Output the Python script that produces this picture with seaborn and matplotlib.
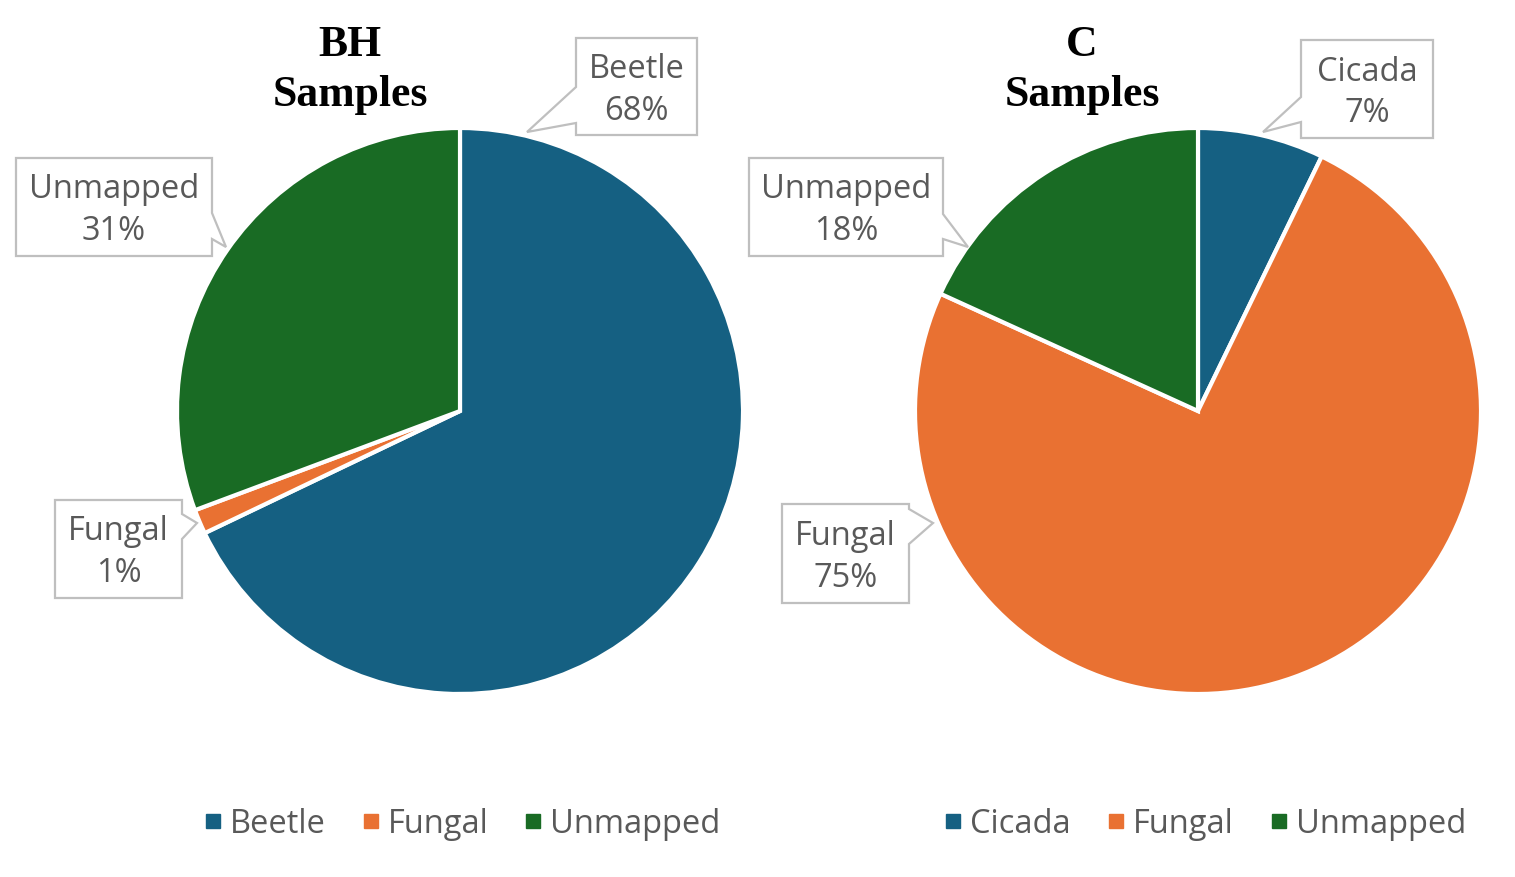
import matplotlib.pyplot as plt
from matplotlib.patches import Polygon
from matplotlib.lines import Line2D
import seaborn as sns

# data
bh_labels = ["Beetle", "Fungal", "Unmapped"]
bh_values = [67.9, 1.4, 30.7]
c_labels = ["Cicada", "Fungal", "Unmapped"]
c_values = [7.2, 74.6, 18.2]
colors = ["#156082", "#E97132", "#196B24"]

sns.set_theme(style="white")
plt.rcParams['font.family'] = ['Open Sans', 'DejaVu Sans']

W, H = 1515, 878
grey = "#595959"
edge = "#BFBFBF"
fs = 23.5

fig = plt.figure(figsize=(15.15, 8.78), dpi=100)
ax = fig.add_axes([0, 0, 1, 1])


def fy(y):
    return H - y


def callout(box, side, base, tip, name, val):
    x0, y0, x1, y1 = box
    b0, b1 = base
    if side == "left":
        pts = [(x0, y0), (x1, y0), (x1, y1), (x0, y1), (x0, b1), tip, (x0, b0)]
    else:
        pts = [(x0, y0), (x1, y0), (x1, b0), tip, (x1, b1), (x1, y1), (x0, y1)]
    pts = [(px, fy(py)) for px, py in pts]
    ax.add_patch(Polygon(pts, closed=True, facecolor="white", edgecolor=edge,
                         linewidth=1.6, zorder=5))
    cx = (x0 + x1) / 2
    cy = (y0 + y1) / 2
    ax.text(cx, fy(cy - 18), name, ha="center", va="center", fontsize=fs,
            color=grey, zorder=6)
    ax.text(cx, fy(cy + 24), f"{round(val)}%", ha="center", va="center",
            fontsize=fs, color=grey, zorder=6)


# pies
ax.pie(bh_values, colors=colors, startangle=90, counterclock=False,
       center=(460, fy(412)), radius=283,
       wedgeprops=dict(edgecolor="white", linewidth=3))
ax.pie(c_values, colors=colors, startangle=90, counterclock=False,
       center=(1198, fy(412)), radius=283,
       wedgeprops=dict(edgecolor="white", linewidth=3))
ax.set_xlim(0, W)
ax.set_ylim(0, H)
ax.set_aspect("equal")
ax.axis("off")

# titles
for x, t in [(350, "BH"), (1082, "C")]:
    ax.text(x, fy(45), t, ha="center", va="center", fontsize=31.5,
            fontweight="bold", family="Liberation Serif", color="black")
    ax.text(x, fy(95), "Samples", ha="center", va="center", fontsize=31.5,
            fontweight="bold", family="Liberation Serif", color="black")

# callouts, left pie
callout((576, 39, 697, 136), "left", (88, 124), (527, 133), bh_labels[0], bh_values[0])
callout((16, 159, 212, 257), "right", (214, 240), (226, 248), bh_labels[2], bh_values[2])
callout((55, 501, 182, 599), "right", (515, 540), (197, 524), bh_labels[1], bh_values[1])
# callouts, right pie
callout((1301, 41, 1433, 139), "left", (98, 123), (1263, 133), c_labels[0], c_values[0])
callout((749, 159, 943, 257), "right", (215, 240), (968, 248), c_labels[2], c_values[2])
callout((782, 505, 909, 604), "right", (510, 545), (933, 524), c_labels[1], c_values[1])

# legends
def legend_for(labels, cx):
    handles = [Line2D([], [], marker="s", linestyle="none", markersize=9.5,
                      markerfacecolor=c, markeredgecolor=c) for c in colors]
    lg = fig.legend(handles, labels, loc="center", ncol=3, frameon=False,
                    bbox_to_anchor=(cx / W, 1 - 825 / H), fontsize=fs,
                    handlelength=0.45, handletextpad=0.3, columnspacing=1.15,
                    labelcolor=grey)
    return lg

legend_for(bh_labels, 463)
legend_for(c_labels, 1206)

fig.savefig("out.png", dpi=100)
